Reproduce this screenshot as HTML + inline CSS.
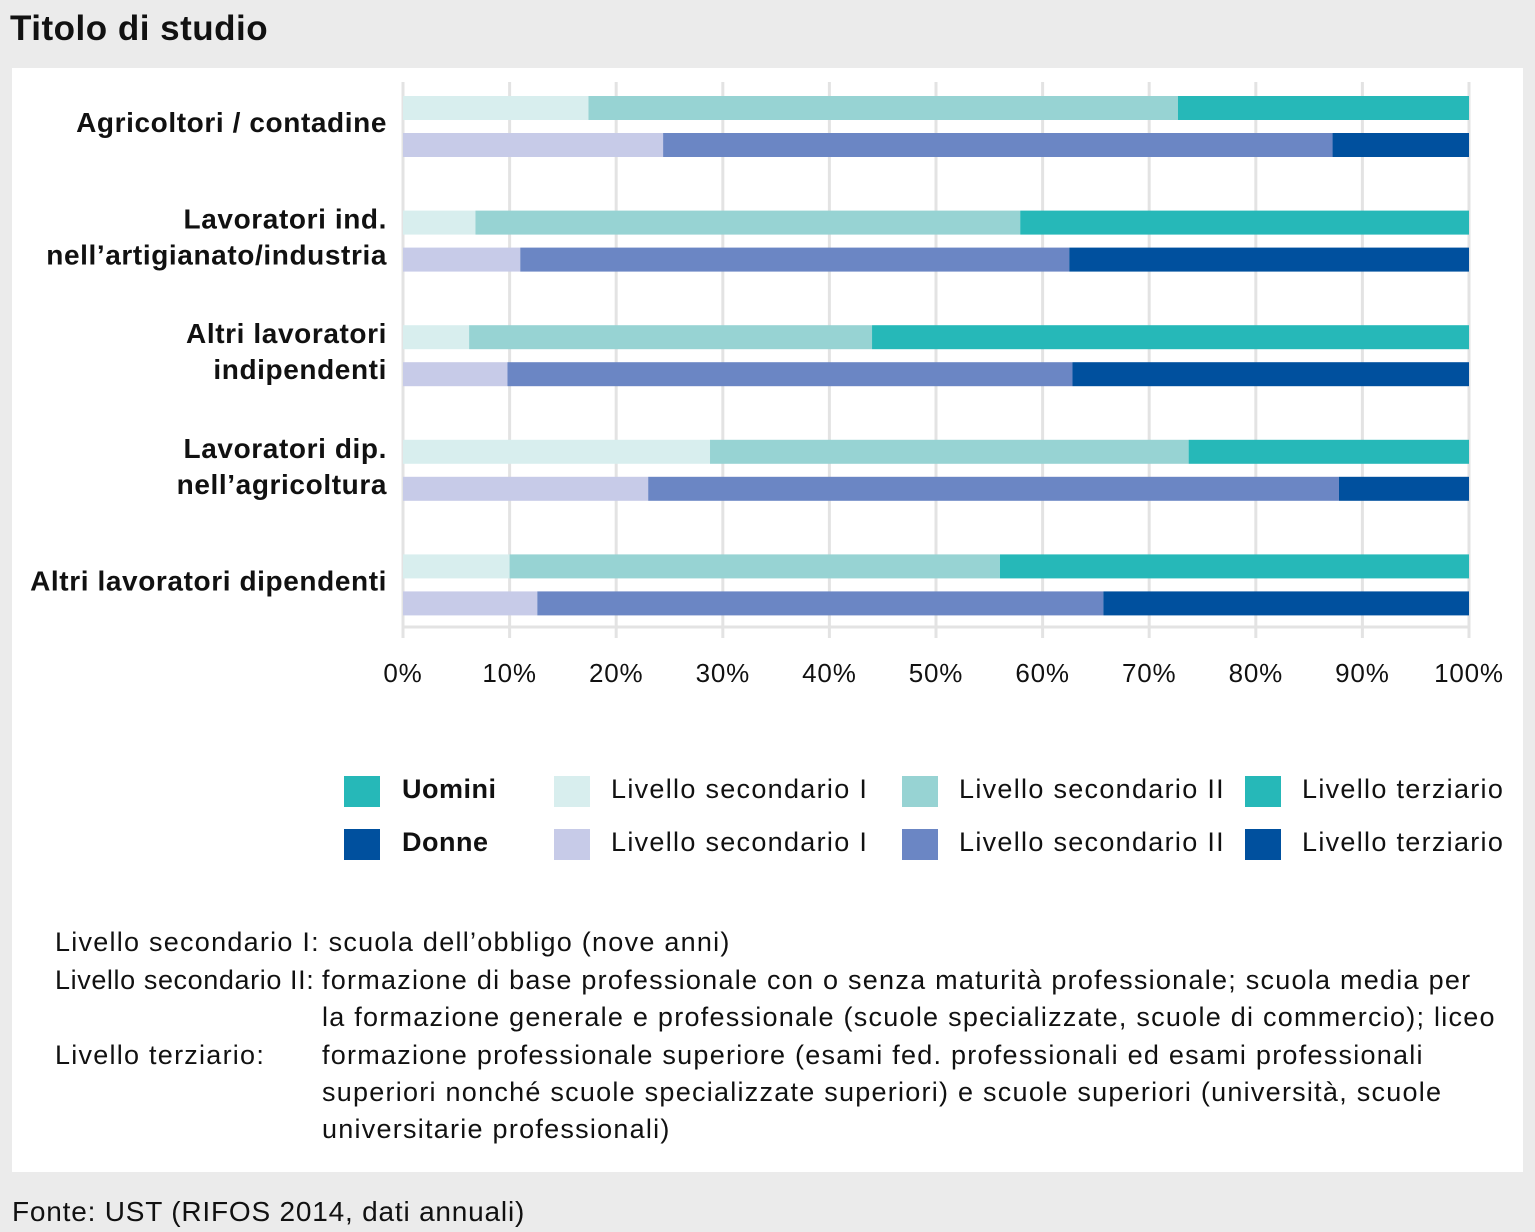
<!DOCTYPE html>
<html><head><meta charset="utf-8"><style>
body{margin:0;width:1535px;height:1232px;background:#ebebeb;font-family:"Liberation Sans",sans-serif;position:relative;overflow:hidden}
.t{position:absolute;white-space:nowrap;color:#111}
#panel{position:absolute;left:12px;top:68px;width:1511px;height:1104px;background:#fff}
.lg{font-size:27px;letter-spacing:1.3px}
</style></head><body>
<div class="t" style="left:10px;top:9px;font-size:35px;font-weight:bold;letter-spacing:0.5px">Titolo di studio</div>
<div id="panel"></div>
<svg id="chart" width="1535" height="1232" style="position:absolute;left:0;top:0"></svg>
<div>
<div style="position:absolute;left:344px;top:776px;width:36px;height:31px;background:#26b8b8"></div>
<div class="t lg" style="left:402px;top:774px;font-weight:bold;letter-spacing:0.5px">Uomini</div>
<div style="position:absolute;left:344px;top:829px;width:36px;height:31px;background:#00509e"></div>
<div class="t lg" style="left:402px;top:827px;font-weight:bold;letter-spacing:0.5px">Donne</div>
<div style="position:absolute;left:554px;top:776px;width:36px;height:31px;background:#d8eeee"></div>
<div class="t lg" style="left:611px;top:774px">Livello secondario I</div>
<div style="position:absolute;left:902px;top:776px;width:36px;height:31px;background:#97d3d3"></div>
<div class="t lg" style="left:959px;top:774px">Livello secondario II</div>
<div style="position:absolute;left:1245px;top:776px;width:36px;height:31px;background:#26b8b8"></div>
<div class="t lg" style="left:1302px;top:774px">Livello terziario</div>
<div style="position:absolute;left:554px;top:829px;width:36px;height:31px;background:#c7cbe8"></div>
<div class="t lg" style="left:611px;top:827px">Livello secondario I</div>
<div style="position:absolute;left:902px;top:829px;width:36px;height:31px;background:#6b86c4"></div>
<div class="t lg" style="left:959px;top:827px">Livello secondario II</div>
<div style="position:absolute;left:1245px;top:829px;width:36px;height:31px;background:#00509e"></div>
<div class="t lg" style="left:1302px;top:827px">Livello terziario</div>
</div>
<div style="font-size:27px;letter-spacing:1.25px">
<div class="t" style="left:55px;top:927px">Livello secondario I: scuola dell’obbligo (nove anni)</div>
<div class="t" style="left:55px;top:965px;letter-spacing:0.6px">Livello secondario II:</div>
<div class="t" style="left:322px;top:965px">formazione di base professionale con o senza maturità professionale; scuola media per</div>
<div class="t" style="left:322px;top:1002px">la formazione generale e professionale (scuole specializzate, scuole di commercio); liceo</div>
<div class="t" style="left:55px;top:1040px">Livello terziario:</div>
<div class="t" style="left:322px;top:1040px">formazione professionale superiore (esami fed. professionali ed esami professionali</div>
<div class="t" style="left:322px;top:1077px">superiori nonché scuole specializzate superiori) e scuole superiori (università, scuole</div>
<div class="t" style="left:322px;top:1114px">universitarie professionali)</div>
</div>
<div class="t" style="left:12px;top:1196px;font-size:28px;letter-spacing:0.8px">Fonte: UST (RIFOS 2014, dati annuali)</div>
<script>
const categories=["Agricoltori / contadine","Lavoratori ind.|nell’artigianato/industria","Altri lavoratori|indipendenti","Lavoratori dip.|nell’agricoltura","Altri lavoratori dipendenti"];
const menSec1=[17.4,6.8,6.2,28.8,10.0];
const menSec2=[55.3,51.1,37.8,44.9,46.0];
const menTerz=[27.3,42.1,56.0,26.3,44.0];
const womenSec1=[24.4,11.0,9.8,23.0,12.6];
const womenSec2=[62.8,51.5,53.0,64.8,53.1];
const womenTerz=[12.8,37.5,37.2,12.2,34.3];
const ticks=["0%","10%","20%","30%","40%","50%","60%","70%","80%","90%","100%"];
const NS="http://www.w3.org/2000/svg",svg=document.getElementById('chart');
const x0=403,x1=1469,y0=84,gh=114.6;
const xs=v=>x0+(x1-x0)*v/100;
function el(t,a){const e=document.createElementNS(NS,t);for(const k in a)e.setAttribute(k,a[k]);svg.appendChild(e);return e;}
ticks.forEach((t,i)=>{const x=xs(i*10);
const g=el('line',{x1:x,x2:x,y1:82,y2:638,stroke:'#e3e3e3','stroke-width':3});


const l=el('text',{x:x,y:682,'font-size':26,'text-anchor':'middle',fill:'#111','letter-spacing':'0.8'});l.textContent=t;

});
const ax=el('line',{x1:x0,x2:x1,y1:627,y2:627,stroke:'#e3e3e3','stroke-width':3});


const mc=['#d8eeee','#97d3d3','#26b8b8'],wc=['#c7cbe8','#6b86c4','#00509e'];
categories.forEach((c,i)=>{const gy=y0+i*gh;
[[menSec1,menSec2,menTerz,mc,12,'men'],[womenSec1,womenSec2,womenTerz,wc,49,'women']].forEach(([a,b,d,cols,off,nm])=>{
let acc=0;[a[i],b[i],d[i]].forEach((v,k)=>{
const r=el('rect',{x:xs(acc),y:gy+off,width:xs(acc+v)-xs(acc),height:24,fill:cols[k]});


acc+=v;});});
const lines=c.split('|');const cy=gy+36;
lines.forEach((ln,j)=>{const tt=el('text',{x:387,y:cy+12+(j-(lines.length-1)/2)*36,'font-size':28,'font-weight':'bold','text-anchor':'end',fill:'#111','letter-spacing':'0.6'});tt.textContent=ln;

});});
</script>
</body></html>
